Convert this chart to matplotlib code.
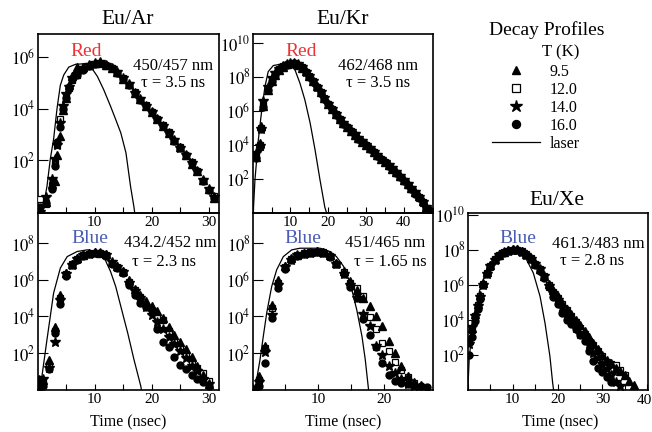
import numpy as np
import matplotlib
matplotlib.use('Agg')
import matplotlib.pyplot as plt
from matplotlib.ticker import FixedLocator, MultipleLocator, FuncFormatter, NullLocator
from matplotlib.lines import Line2D

plt.rcParams['font.family'] = ['Liberation Serif', 'DejaVu Serif']
plt.rcParams['mathtext.fontset'] = 'stix'

nan = np.nan

# all intensities are log10(counts)
temps = ['9.5', '12.0', '14.0', '16.0']

# Eu/Ar, red, 450/457 nm
ar_red_t = [0.5, 1.5, 2.5, 3.0, 3.5, 4.0, 4.5, 5.0, 5.5, 6.0, 7, 8, 9, 10, 11, 12, 13, 14, 15,
            16, 17, 18, 19, 20, 21, 22, 23, 24, 25, 26, 27, 28, 29, 30, 31]
ar_red_tri = [0.1, 0.4, 1.1, 1.2, 2.2, 2.95, 3.95, 4.4, 4.9, 5.25, 5.6, 5.62, 5.7, 5.75, 5.78, 5.7,
              5.55, 5.4, 5.15, 4.95, 4.6, 4.38, 4.1, 3.85, 3.6, 3.32, 3.05, 2.8, 2.5, 2.22, 1.88,
              1.6, 1.25, 0.9, 0.55]
ar_red_sq = [0.5, 0.3, 1.0, 1.9, 2.6, 3.6, 4.0, 4.5, 4.8, 5.1, 5.3, 5.52, 5.66, 5.72, 5.74, 5.66,
             5.55, 5.36, 5.18, 4.92, 4.65, 4.35, 4.12, 3.87, 3.58, 3.36, 3.08, 2.75, 2.5, 2.18,
             1.92, 1.58, 1.2, 0.85, 0.62]
ar_red_star = [0.0, 0.6, 1.3, 2.05, 2.6, 3.45, 4.1, 4.55, 4.85, 5.2, 5.35, 5.55, 5.7, 5.76, 5.78,
               5.7, 5.58, 5.4, 5.2, 4.95, 4.62, 4.38, 4.1, 3.85, 3.6, 3.34, 3.06, 2.78, 2.46, 2.22,
               1.9, 1.6, 1.24, 0.9, 0.6]
ar_red_circ = [0.2, 0.35, 0.9, 1.8, 2.7, 3.3, 4.0, 4.4, 4.85, 5.15, 5.3, 5.5, 5.66, 5.73, 5.75,
               5.67, 5.55, 5.37, 5.16, 4.93, 4.62, 4.35, 4.1, 3.87, 3.6, 3.33, 3.07, 2.76, 2.48,
               2.2, 1.9, 1.6, 1.2, 0.85, 0.55]
ar_red_laser_t = [0.6, 1.66, 2.24, 2.82, 3.42, 4.0, 4.6, 5.47, 6.65, 8.1, 9.3, 10.5, 11.6, 12.8,
                  13.7, 14.6, 15.5, 16.3, 16.9, 17.2]
ar_red_laser = [-0.3, 1.0, 2.05, 2.82, 4.0, 4.9, 5.3, 5.6, 5.71, 5.73, 5.63, 5.24, 4.73, 4.09,
                3.58, 3.06, 2.29, 1.0, 0.2, -0.3]

# Eu/Kr, red, 462/468 nm
kr_red_t = np.concatenate([[0.8, 1.8, 2.3, 2.8], np.arange(4, 48)])
kr_red_tri = [3.3, 4.1, 5.1, 6.3, 7.25, 7.78, 8.12, 8.42, 8.6, 8.74, 8.8, 8.8, 8.7, 8.55, 8.32,
              8.05, 7.76, 7.44, 7.1, 6.77, 6.42, 6.1, 5.82, 5.52, 5.27, 5.04, 4.83, 4.6, 4.4,
              4.18, 3.97, 3.78, 3.58, 3.38, 3.18, 2.98, 2.78, 2.58, 2.36, 2.14, 1.92, 1.7, 1.45,
              1.2, 0.95, 0.65, 0.35, 0.15]
kr_red_sq = [3.4, 4.0, 5.0, 6.4, 7.3, 7.82, 8.16, 8.44, 8.62, 8.72, 8.78, 8.8, 8.72, 8.56, 8.3,
             8.04, 7.74, 7.4, 7.08, 6.74, 6.4, 6.08, 5.8, 5.5, 5.24, 5.05, 4.8, 4.6, 4.36, 4.18,
             3.98, 3.76, 3.56, 3.36, 3.16, 2.96, 2.76, 2.56, 2.34, 2.1, 1.88, 1.65, 1.4, 1.15,
             0.9, 0.6, 0.28, 0.08]
kr_red_star = [3.5, 3.95, 4.9, 6.6, 7.4, 7.95, 8.2, 8.48, 8.62, 8.74, 8.82, 8.84, 8.74, 8.56, 8.3,
               8.06, 7.75, 7.42, 7.12, 6.76, 6.4, 6.12, 5.8, 5.5, 5.26, 5.06, 4.82, 4.62, 4.38,
               4.2, 3.98, 3.8, 3.58, 3.38, 3.18, 2.98, 2.78, 2.6, 2.36, 2.14, 1.9, 1.68, 1.45,
               1.2, 0.9, 0.6, 0.32, 0.12]
kr_red_circ = [3.2, 3.85, 4.95, 6.2, 7.2, 7.75, 8.12, 8.42, 8.58, 8.7, 8.78, 8.8, 8.7, 8.54, 8.28,
               8.02, 7.72, 7.4, 7.06, 6.72, 6.38, 6.08, 5.78, 5.48, 5.22, 5.02, 4.8, 4.58, 4.36,
               4.16, 3.96, 3.76, 3.55, 3.35, 3.15, 2.95, 2.75, 2.55, 2.32, 2.1, 1.86, 1.62, 1.38,
               1.12, 0.86, 0.55, 0.25, 0.05]
kr_red_laser_t = [0.1, 0.6, 1.5, 2.4, 3.25, 4.1, 5.45, 7.7, 9.9, 11.2, 12.5, 13.8, 15.2, 16.5,
                  17.8, 19.1, 19.8]
kr_red_laser = [-0.2, 1.94, 4.3, 6.06, 7.43, 8.31, 8.67, 8.76, 8.7, 8.41, 7.63, 6.65, 5.28, 3.7,
                1.94, 0.3, -0.2]

# Eu/Ar, blue, 434.2/452 nm
ar_blue_t = np.concatenate([[0.3], np.arange(1, 31)])
ar_blue_tri = [0.4, 0.5, 1.6, 3.4, 5.2, 6.4, 6.9, 7.2, 7.38, 7.48, 7.52, 7.5, 7.4, 7.0, 6.75, 6.5,
               6.0, 5.5, 5.15, 4.85, 4.6, 4.3, 3.9, 3.4, 3.0, 2.6, 2.2, 1.8, 1.3, 0.8, 0.3]
ar_blue_sq = [0.55, 0.45, 1.3, 3.2, 5.0, 6.3, 6.85, 7.15, 7.35, 7.45, 7.5, 7.48, 7.35, 6.95, 6.7,
              6.45, 5.9, 5.45, 5.05, 4.6, 4.3, 4.0, 3.8, 3.2, 2.7, 2.3, 1.9, 1.5, 1.2, 0.9, 0.45]
ar_blue_star = [0.5, 0.55, 1.2, 2.6, 4.9, 6.3, 6.8, 7.15, 7.35, 7.45, 7.5, 7.5, 7.38, 6.98, 6.7,
                6.45, 5.85, 5.4, 5.0, 4.5, 4.1, 3.7, 3.3, 2.9, 2.5, 2.1, 1.7, 1.3, 1.0, 0.6, 0.3]
ar_blue_circ = [0.1, 0.2, 1.1, 3.1, 4.7, 6.2, 6.8, 7.1, 7.32, 7.42, 7.48, 7.46, 7.32, 6.9, 6.65,
                6.4, 5.75, 5.2, 4.75, 4.5, 4.35, 3.3, 2.6, 2.3, 1.8, 1.35, 1.1, 0.8, 0.6, 0.4, 0.2]
ar_blue_laser_t = [0.35, 0.78, 1.66, 2.24, 2.82, 4.0, 5.2, 6.95, 8.7, 10.5, 11.6, 12.8, 13.7,
                   14.6, 15.8, 16.9, 18.1, 18.3]
ar_blue_laser = [-0.2, 0.73, 2.73, 4.0, 5.28, 6.65, 7.28, 7.56, 7.65, 7.56, 7.28, 6.46, 5.64,
                 4.55, 3.1, 1.64, 0.18, -0.2]

# Eu/Kr, blue, 451/465 nm
kr_blue_t = [0.3, 0.9, 1.9, 2.9, 3.9, 4.9, 5.8, 6.8, 7.8, 8.8, 9.8, 10.8, 11.8, 12.8, 13.9, 14.9,
             15.9, 16.9, 17.9, 18.8, 19.7, 20.8, 21.8, 22.7, 23.7, 24.7, 25.7, 26.7]
kr_blue_tri = [0.1, 0.75, 2.4, 4.65, 6.0, 6.75, 7.2, 7.38, 7.5, 7.55, 7.58, 7.55, 7.35, 6.95, 6.5,
               5.95, 5.45, 5.0, 4.55, 4.0, 3.45, 2.65, 2.0, 1.3, 0.75, 0.4, 0.25, nan]
kr_blue_sq = [nan, 0.5, 2.25, 4.45, 5.85, 6.7, 7.15, 7.35, 7.5, 7.52, 7.55, 7.52, 7.3, 6.9, 6.45,
              5.85, 5.55, 5.1, 3.95, 3.3, 2.55, 2.1, 1.5, 1.05, 0.7, 0.35, nan, nan]
kr_blue_star = [nan, 0.4, 2.05, 4.1, 5.75, 6.7, 7.1, 7.35, 7.45, 7.5, 7.55, 7.5, 7.3, 6.85, 6.35,
                5.7, 5.0, 4.15, 3.45, 2.4, 1.9, 1.3, 0.9, 0.55, 0.3, 0.2, nan, nan]
kr_blue_circ = [nan, 0.2, 1.45, 3.9, 5.55, 6.6, 7.1, 7.3, 7.45, 7.5, 7.52, 7.5, 7.28, 6.85, 6.3,
                5.6, 5.0, 3.85, 3.0, 2.3, 1.45, 0.8, 0.45, 0.35, 0.3, 0.25, 0.2, 0.15]
kr_blue_laser_t = [0.25, 1.12, 1.62, 2.14, 2.9, 3.67, 4.68, 5.96, 7.23, 10.3, 11.8, 12.8, 13.9,
                   14.9, 15.9, 16.7, 17.2, 17.7, 17.9]
kr_blue_laser = [-0.2, 1.64, 2.91, 4.19, 5.64, 6.56, 7.28, 7.65, 7.74, 7.74, 7.56, 7.28, 6.74,
                 5.83, 4.37, 2.91, 1.64, 0.0, -0.3]

# Eu/Xe, blue, 461.3/483 nm
xe_blue_t = np.concatenate([[0.4, 1.0, 1.6, 2.2, 2.8, 3.5, 4.2, 5.0], np.arange(6, 38)])
xe_blue_tri = [2.85, 3.5, 4.3, 4.9, 5.4, 6.1, 6.7, 7.1, 7.48, 7.72, 7.87, 7.97, 8.02, 8.02, 7.92,
               7.78, 7.52, 7.22, 6.92, 6.52, 6.05, 5.7, 5.35, 4.95, 4.6, 4.3, 4.0, 3.7, 3.35, 3.0,
               2.65, 2.3, 1.95, 1.7, 1.5, 1.25, 1.05, 0.8, 0.5, 0.25]
xe_blue_sq = [2.7, 3.4, 4.2, 4.85, 5.35, 6.05, 6.65, 7.05, 7.45, 7.7, 7.85, 7.95, 8.0, 8.0, 7.9,
              7.75, 7.5, 7.2, 6.9, 6.5, 6.0, 5.6, 5.25, 4.9, 4.55, 4.2, 3.85, 3.5, 3.15, 2.8,
              2.55, 2.2, 1.9, 1.6, 1.45, 1.4, 1.1, 0.8, nan, nan]
xe_blue_star = [2.6, 3.55, 4.2, 4.8, 5.3, 6.0, 6.6, 7.05, 7.42, 7.68, 7.85, 7.95, 8.0, 7.98, 7.88,
                7.72, 7.48, 7.18, 6.88, 6.48, 5.95, 5.5, 5.1, 4.7, 4.3, 3.9, 3.5, 3.2, 2.95, 2.6,
                2.1, 1.8, 1.45, 1.15, 0.85, 0.45, 0.2, nan, nan, nan]
xe_blue_circ = [2.0, 3.0, 3.9, 4.6, 5.2, 6.0, 6.6, 7.0, 7.4, 7.65, 7.82, 7.92, 7.98, 7.96, 7.85,
                7.7, 7.45, 7.15, 6.8, 6.4, 5.85, 5.3, 4.9, 4.35, 4.0, 3.75, 3.45, 3.1, 2.75, 2.2,
                1.65, 1.25, 1.0, 0.7, 0.45, nan, nan, nan, nan, nan]
xe_blue_laser_t = [0.0, 0.36, 0.9, 1.6, 2.7, 4.2, 6.1, 8.3, 10.1, 11.6, 13.1, 14.6, 16.1, 17.2,
                   18.3, 18.9, 19.2]
xe_blue_laser = [-0.2, 1.9, 3.05, 4.38, 5.71, 6.86, 7.52, 7.9, 7.94, 7.81, 7.43, 6.67, 5.33, 3.81,
                 1.9, 0.4, -0.2]

RED = '#ec3237'
BLUE = '#4a5db3'
W, H = 652, 432

fig = plt.figure(figsize=(6.52, 4.32), dpi=100)


def box(l, r, t, b):
    return [l / W, 1 - b / H, (r - l) / W, (b - t) / H]


def ftext(x, y, s, **kw):
    fig.text(x / W, 1 - y / H, s, ha=kw.pop('ha', 'center'), va='center', **kw)


styles = [dict(marker='^', ms=5.5, mfc='black', mec='black'),
          dict(marker='s', ms=4.5, mfc='white', mec='black', mew=0.9),
          dict(marker='*', ms=7.5, mfc='black', mec='black'),
          dict(marker='o', ms=5, mfc='black', mec='black')]


def tick_fmt(last):
    def f(v, p):
        k = int(round(v))
        if v < 0.5 or k % 10 or k == last:
            return ''
        return '%d' % k
    return f


def panel(rect, t, series, laser_t, laser, xmax, ytop, ydecs, skip_label=None):
    ax = fig.add_axes(rect)
    ax.set_facecolor('none')
    ax.plot(laser_t, 10.0 ** np.array(laser), color='black', lw=0.9, zorder=2)
    # open squares underneath, the filled symbols over them
    for idx in [1, 3, 0, 2]:
        ax.plot(t, 10.0 ** np.array(series[idx], dtype=float), ls='none', zorder=3,
                **styles[idx])
    ax.set_yscale('log')
    ax.set_xlim(0, xmax)
    ax.set_ylim(10 ** -0.03, 10.0 ** ytop)
    ax.yaxis.set_major_locator(FixedLocator([10.0 ** k for k in ydecs]))
    ax.yaxis.set_minor_locator(NullLocator())
    ax.yaxis.set_major_formatter(FuncFormatter(lambda v, p: '$10^{%d}$' % round(np.log10(v))))
    ax.xaxis.set_major_locator(MultipleLocator(5))
    ax.xaxis.set_major_formatter(FuncFormatter(tick_fmt(skip_label)))
    ax.tick_params(axis='y', direction='in', length=7, width=0.8, labelsize=12, pad=1.5)
    ax.tick_params(axis='x', direction='in', length=4.5, width=0.8, labelsize=11, pad=2.5)
    for s in ax.spines.values():
        s.set_linewidth(1.2)
    return ax


panel(box(37.5, 219, 34, 213), ar_red_t,
      [ar_red_tri, ar_red_sq, ar_red_star, ar_red_circ],
      ar_red_laser_t, ar_red_laser, 31.8, 6.88, [2, 4, 6])
panel(box(252.7, 433.3, 34, 213), kr_red_t,
      [kr_red_tri, kr_red_sq, kr_red_star, kr_red_circ],
      kr_red_laser_t, kr_red_laser, 47.8, 10.53, [2, 4, 6, 8, 10])
panel(box(37.5, 219, 213, 390), ar_blue_t,
      [ar_blue_tri, ar_blue_sq, ar_blue_star, ar_blue_circ],
      ar_blue_laser_t, ar_blue_laser, 31.8, 9.67, [2, 4, 6, 8])
panel(box(252.7, 433.3, 213, 390), kr_blue_t,
      [kr_blue_tri, kr_blue_sq, kr_blue_star, kr_blue_circ],
      kr_blue_laser_t, kr_blue_laser, 27.6, 9.67, [2, 4, 6, 8])
panel(box(467.7, 648.3, 213, 390), xe_blue_t,
      [xe_blue_tri, xe_blue_sq, xe_blue_star, xe_blue_circ],
      xe_blue_laser_t, xe_blue_laser, 40.2, 10.1, [2, 4, 6, 8, 10], skip_label=40)
# the last Xe label sits against the right edge of the page
ftext(644, 400, '40', fontsize=11)

# titles and annotations
ftext(128, 20, 'Eu/Ar', fontsize=15.5)
ftext(343, 20, 'Eu/Kr', fontsize=15.5)
ftext(557, 200, 'Eu/Xe', fontsize=15.5)

ftext(86, 52, 'Red', fontsize=14, color=RED)
ftext(301, 52, 'Red', fontsize=14, color=RED)
ftext(90, 239, 'Blue', fontsize=14, color=BLUE)
ftext(303, 239, 'Blue', fontsize=14, color=BLUE)
ftext(518, 239, 'Blue', fontsize=14, color=BLUE)

ftext(173, 66, '450/457 nm', fontsize=12)
ftext(173, 83, 'τ = 3.5 ns', fontsize=12)
ftext(378, 66, '462/468 nm', fontsize=12)
ftext(378, 83, 'τ = 3.5 ns', fontsize=12)
ftext(170, 243, '434.2/452 nm', fontsize=12)
ftext(164, 262, 'τ = 2.3 ns', fontsize=12)
ftext(385, 243, '451/465 nm', fontsize=12)
ftext(390, 262, 'τ = 1.65 ns', fontsize=12)
ftext(598, 244, '461.3/483 nm', fontsize=12)
ftext(592, 261, 'τ = 2.8 ns', fontsize=12)

for xc in [128, 343, 560]:
    ftext(xc, 422, 'Time (nsec)', fontsize=11.5)

# legend block
ftext(547, 30, 'Decay Profiles', fontsize=14)
ftext(561, 52, 'T (K)', fontsize=12)
handles = [Line2D([], [], ls='none', **styles[i]) for i in range(4)]
handles.append(Line2D([], [], color='black', lw=0.9))
fig.legend(handles, temps + ['laser'], loc='upper left',
           bbox_to_anchor=(492 / W, 1 - 64 / H), frameon=False, fontsize=11.5,
           handlelength=3.0, handletextpad=0.6, labelspacing=0.12, markerscale=1.15,
           borderpad=0, borderaxespad=0)

fig.savefig('out.png', dpi=100)
